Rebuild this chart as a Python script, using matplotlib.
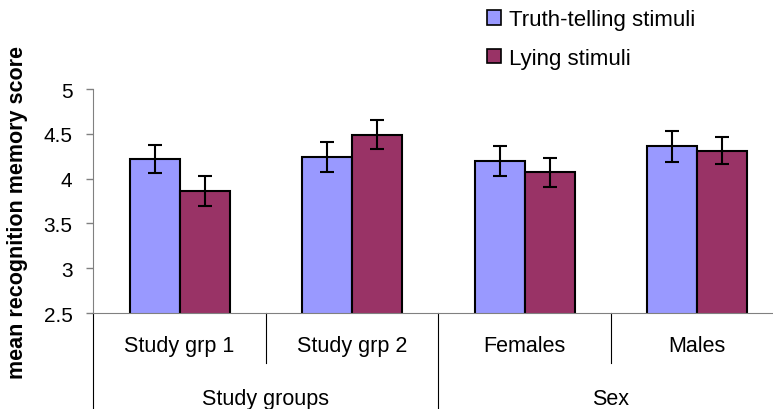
import matplotlib
matplotlib.use("Agg")
import matplotlib.pyplot as plt
from matplotlib.patches import Patch
import numpy as np

plt.rcParams['font.family'] = ['Liberation Sans', 'DejaVu Sans']

categories = ['Study grp 1', 'Study grp 2', 'Females', 'Males']
groups = ['Study groups', 'Sex']
series_names = ['Truth-telling stimuli', 'Lying stimuli']
truth_mean = [4.22, 4.24, 4.20, 4.36]
truth_err = [0.155, 0.17, 0.17, 0.17]
lying_mean = [3.86, 4.49, 4.07, 4.31]
lying_err = [0.165, 0.16, 0.16, 0.15]

truth_col = '#9999ff'
lying_col = '#993366'
axis_grey = '#808080'

fig = plt.figure(figsize=(7.73, 4.10), dpi=100)
ax = fig.add_axes([0.1207, 0.234, 0.8926, 0.5463])

x = np.arange(len(categories)) + 0.5
w = 0.29
ekw = dict(ecolor='black', elinewidth=1.5, capsize=5.3, capthick=1.5)
ax.bar(x - w / 2, truth_mean, w, color=truth_col, edgecolor='black',
       linewidth=1.5, yerr=truth_err, error_kw=ekw, zorder=3)
ax.bar(x + w / 2, lying_mean, w, color=lying_col, edgecolor='black',
       linewidth=1.5, yerr=lying_err, error_kw=ekw, zorder=3)

ax.set_xlim(0, 4)
ax.set_ylim(2.5, 5)
ax.set_yticks([2.5, 3, 3.5, 4, 4.5, 5])
ax.set_yticklabels(['2.5', '3', '3.5', '4', '4.5', '5'])
ax.tick_params(axis='y', direction='out', length=5, width=1, color=axis_grey,
               labelsize=15, pad=10)
ax.set_xticks([])
for s in ['top', 'right']:
    ax.spines[s].set_visible(False)
ax.spines['left'].set_color(axis_grey)
ax.spines['bottom'].set_color(axis_grey)
ax.spines['bottom'].set_zorder(4)

ax.set_ylabel('mean recognition memory score', fontsize=15.5, fontweight='bold')
ax.yaxis.set_label_coords(-0.0947, 0.453)

trans = ax.get_xaxis_transform()
# short lines between categories, long lines between groups
for xi in [1, 3]:
    ax.plot([xi, xi], [0, -0.223], color='black', lw=0.8, transform=trans,
            clip_on=False)
for xi in [0, 2, 4]:
    ax.plot([xi, xi], [0, -0.45], color='black', lw=0.8, transform=trans,
            clip_on=False)
for xi, lab in zip(x, categories):
    ax.text(xi, -0.147, lab, ha='center', va='center', fontsize=15.5,
            transform=trans)
for gi, lab in enumerate(groups):
    ax.text(1 + 2 * gi, -0.38, lab, ha='center', va='center', fontsize=15.5,
            transform=trans)

handles = [Patch(facecolor=truth_col, edgecolor='black', linewidth=1.2),
           Patch(facecolor=lying_col, edgecolor='black', linewidth=1.2)]
fig.legend(handles, series_names, loc='upper left',
           bbox_to_anchor=(0.630, 0.975), frameon=False, fontsize=16,
           borderpad=0, borderaxespad=0,
           handlelength=0.63, handleheight=0.63, handletextpad=0.36,
           labelspacing=0.8)

fig.savefig('out.png', dpi=100)
